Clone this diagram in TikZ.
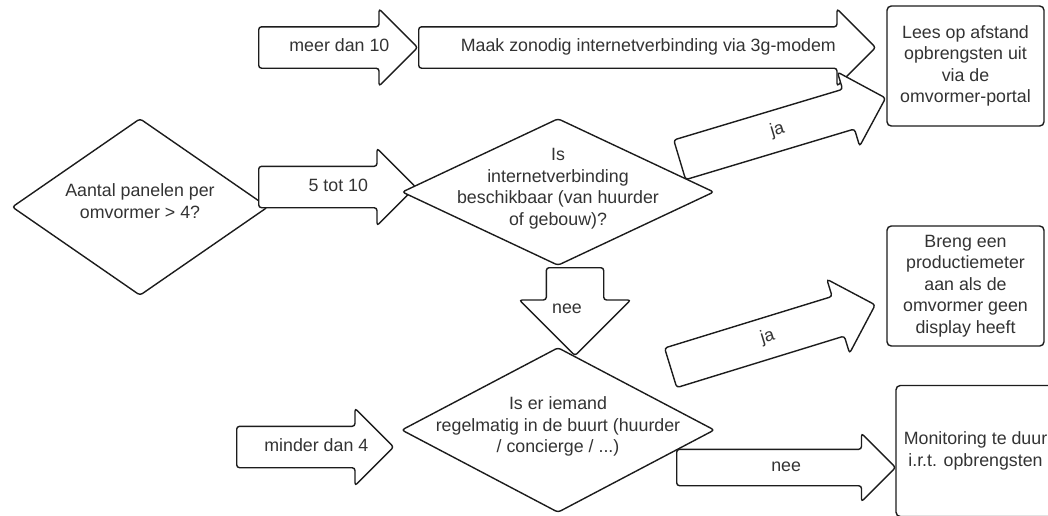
\documentclass[tikz,border=0pt]{standalone}
\usepackage{fontspec}
\setmainfont{Liberation Sans}
\usepackage{xcolor}
\definecolor{Ink}{HTML}{1C1C1C}
\definecolor{Label}{HTML}{333333}
\usepackage{tikz}
\usetikzlibrary{shapes.geometric,shapes.arrows}
\tikzset{
  every node/.style={font=\fontsize{17.8}{21.5}\selectfont,text=Label},
  outcome/.style={draw=Ink,line width=1.4pt,rounded corners=1.5mm,fill=white,
    minimum width=157pt,minimum height=120pt,align=center,inner sep=0pt},
  decision/.style={diamond,draw=Ink,line width=1.4pt,rounded corners=1mm,fill=white,
    align=center,inner sep=-16pt,text depth=3.7pt},
  blockarrow/.style={single arrow,draw=Ink,line width=1.4pt,rounded corners=1mm,fill=white,
    single arrow head extend=18pt,text height=12pt,text depth=4pt,inner ysep=12pt,
    inner xsep=-12pt,execute at begin node={\hspace*{#1}},anchor=tail},
  blockarrow/.default=23pt
}

\begin{document}
\begin{tikzpicture}[x=1pt,y=-1pt]
  \useasboundingbox (0,0) rectangle (1048,515);
  \clip (0,0) rectangle (1048,515);
  \node[decision, aspect=1.45, minimum width=256pt, minimum height=177pt, text height=26pt] (panels) at (140,207) {Aantal panelen per\\omvormer > 4?};
  \node[blockarrow, minimum height=159pt] (more) at (258,47.5) {meer dan 10};
  \node[blockarrow, minimum height=457pt] (modem) at (418,47.5) {Maak zonodig internetverbinding via 3g-modem};
  \node[blockarrow, minimum height=157pt] (mid) at (258,187) {5 tot 10};
  \node[decision, aspect=2.12, minimum width=312pt, minimum height=147pt, text height=70pt] (avail) at (558,192) {Is\\internetverbinding\\beschikbaar (van huurder\\of gebouw)?};
  \node[blockarrow=10pt, minimum height=215pt, rotate=16.7] (yesportal) at (679,160) {ja};
  \node[blockarrow=-16pt, shape border rotate=270, text width=34pt, align=center, inner xsep=11pt,
    inner ysep=0pt, text height=33pt, text depth=-17pt,
    minimum height=88pt, single arrow head extend=27pt] (noavail) at (575,267) {nee};
  \node[decision, aspect=1.9, minimum width=313pt, minimum height=165pt, text height=49.5pt] (nearby) at (558,430) {Is er iemand\\regelmatig in de buurt (huurder\\/ concierge / ...)};
  \node[blockarrow, minimum height=157pt] (fewer) at (236,447) {minder dan 4};
  \node[blockarrow=10pt, minimum height=214pt, rotate=17.1] (yesmeter) at (670,368) {ja};
  \node[blockarrow=18pt, minimum height=219pt, single arrow head extend=16pt, inner ysep=9.5pt] (nonearby) at (676,467.5) {nee};
  \node[outcome] (portal) at (965.5,66) {Lees op afstand\\opbrengsten uit\\via de\\omvormer-portal};
  \node[outcome] (meter) at (965.5,286) {Breng een\\productiemeter\\aan als de\\omvormer geen\\display heeft};
  \node[outcome, minimum width=159pt, minimum height=131pt] (tooexp) at (975.5,451) {Monitoring te duur\\i.r.t. opbrengsten};
\end{tikzpicture}
\end{document}
